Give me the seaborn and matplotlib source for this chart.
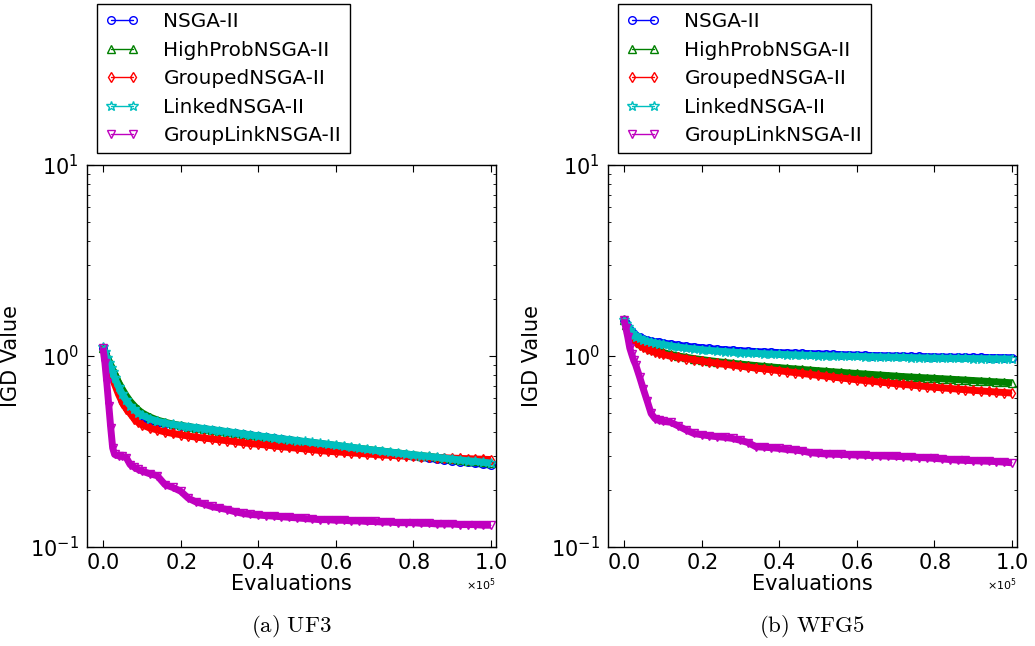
import numpy as np
import pandas as pd
import matplotlib
matplotlib.use("Agg")
import matplotlib.pyplot as plt
import seaborn as sns

# ---------------- data ----------------
evals_k = [0, 0.5, 1, 1.5, 2, 2.5, 3, 4, 5, 6, 7, 8, 9,
           10, 12, 14, 16, 18, 20, 22, 24, 26, 28, 30, 32, 34, 36, 38, 40,
           42, 44, 46, 48, 50, 52, 54, 56, 58, 60, 62, 64, 66, 68, 70, 72,
           74, 76, 78, 80, 82, 84, 86, 88, 90, 92, 94, 96, 98, 100]

algorithms = ["NSGA-II", "HighProbNSGA-II", "GroupedNSGA-II",
              "LinkedNSGA-II", "GroupLinkNSGA-II"]

# UF3
uf3_nsga = [1.10, 1.03, 0.96, 0.89, 0.83, 0.78, 0.73, 0.65, 0.59, 0.55, 0.52, 0.50, 0.485,
            0.472, 0.458, 0.448, 0.441, 0.435, 0.430, 0.425, 0.420, 0.415, 0.410, 0.405, 0.400,
            0.396, 0.391, 0.386, 0.381, 0.377, 0.372, 0.368, 0.364, 0.359, 0.355, 0.351, 0.347,
            0.342, 0.338, 0.334, 0.330, 0.326, 0.322, 0.318, 0.314, 0.310, 0.306, 0.302, 0.298,
            0.295, 0.291, 0.288, 0.285, 0.282, 0.279, 0.277, 0.274, 0.271, 0.268]
uf3_highprob = [1.10, 1.05, 1.00, 0.95, 0.90, 0.85, 0.81, 0.73, 0.67, 0.62, 0.58, 0.55, 0.525,
                0.505, 0.480, 0.462, 0.450, 0.440, 0.433, 0.427, 0.421, 0.416, 0.411, 0.406, 0.401,
                0.396, 0.391, 0.386, 0.381, 0.377, 0.372, 0.368, 0.364, 0.360, 0.356, 0.352, 0.348,
                0.344, 0.340, 0.336, 0.332, 0.328, 0.325, 0.321, 0.318, 0.314, 0.311, 0.307, 0.304,
                0.301, 0.298, 0.295, 0.292, 0.289, 0.286, 0.283, 0.281, 0.278, 0.275]
uf3_grouped = [1.10, 1.02, 0.95, 0.88, 0.82, 0.76, 0.71, 0.63, 0.57, 0.53, 0.50, 0.47, 0.45,
               0.437, 0.420, 0.410, 0.400, 0.393, 0.387, 0.381, 0.376, 0.372, 0.368, 0.364, 0.360,
               0.356, 0.352, 0.348, 0.345, 0.342, 0.338, 0.335, 0.332, 0.329, 0.326, 0.323, 0.320,
               0.317, 0.315, 0.313, 0.311, 0.309, 0.307, 0.305, 0.303, 0.302, 0.300, 0.299, 0.298,
               0.296, 0.295, 0.294, 0.293, 0.292, 0.291, 0.290, 0.289, 0.288, 0.287]
uf3_linked = [1.12, 1.05, 0.98, 0.92, 0.87, 0.82, 0.77, 0.69, 0.63, 0.585, 0.55, 0.525, 0.505,
              0.490, 0.470, 0.456, 0.446, 0.438, 0.432, 0.427, 0.422, 0.417, 0.412, 0.407, 0.402,
              0.397, 0.392, 0.387, 0.382, 0.378, 0.373, 0.369, 0.365, 0.361, 0.357, 0.353, 0.349,
              0.345, 0.341, 0.337, 0.333, 0.329, 0.325, 0.321, 0.318, 0.314, 0.311, 0.307, 0.304,
              0.301, 0.298, 0.295, 0.292, 0.289, 0.286, 0.283, 0.281, 0.278, 0.275]
uf3_grouplink = [1.10, 0.92, 0.72, 0.55, 0.42, 0.33, 0.305, 0.300, 0.298, 0.294, 0.270, 0.262, 0.255,
                 0.250, 0.242, 0.236, 0.212, 0.205, 0.196, 0.180, 0.172, 0.168, 0.163, 0.160, 0.157,
                 0.153, 0.150, 0.148, 0.147, 0.146, 0.145, 0.144, 0.143, 0.142, 0.141, 0.140, 0.139,
                 0.139, 0.138, 0.138, 0.137, 0.137, 0.136, 0.136, 0.135, 0.135, 0.134, 0.134, 0.134,
                 0.133, 0.133, 0.132, 0.132, 0.132, 0.131, 0.131, 0.131, 0.130, 0.130]

# WFG5
wfg5_nsga = [1.55, 1.48, 1.42, 1.37, 1.33, 1.30, 1.28, 1.25, 1.23, 1.21, 1.20, 1.19, 1.18,
             1.17, 1.155, 1.14, 1.125, 1.115, 1.105, 1.095, 1.085, 1.078, 1.072, 1.066, 1.060,
             1.055, 1.050, 1.046, 1.042, 1.038, 1.035, 1.032, 1.029, 1.026, 1.023, 1.020, 1.017,
             1.014, 1.011, 1.008, 1.006, 1.004, 1.002, 1.000, 0.998, 0.996, 0.994, 0.992, 0.990,
             0.988, 0.987, 0.986, 0.985, 0.984, 0.983, 0.982, 0.981, 0.980, 0.979]
wfg5_highprob = [1.55, 1.46, 1.39, 1.33, 1.28, 1.24, 1.21, 1.17, 1.14, 1.11, 1.09, 1.075, 1.06,
                 1.045, 1.02, 1.00, 0.985, 0.970, 0.958, 0.946, 0.935, 0.925, 0.916, 0.907, 0.899,
                 0.891, 0.883, 0.876, 0.869, 0.862, 0.856, 0.850, 0.844, 0.838, 0.832, 0.826, 0.821,
                 0.815, 0.810, 0.805, 0.800, 0.795, 0.790, 0.785, 0.780, 0.776, 0.772, 0.768, 0.764,
                 0.760, 0.756, 0.752, 0.748, 0.744, 0.740, 0.736, 0.732, 0.728, 0.724]
wfg5_grouped = [1.55, 1.45, 1.37, 1.30, 1.25, 1.21, 1.18, 1.14, 1.11, 1.09, 1.07, 1.05, 1.035,
                1.02, 1.00, 0.985, 0.970, 0.955, 0.940, 0.928, 0.916, 0.905, 0.895, 0.885, 0.875,
                0.865, 0.856, 0.847, 0.838, 0.828, 0.819, 0.810, 0.801, 0.792, 0.784, 0.775, 0.767,
                0.759, 0.751, 0.744, 0.737, 0.730, 0.723, 0.716, 0.710, 0.704, 0.698, 0.692, 0.686,
                0.681, 0.676, 0.671, 0.666, 0.661, 0.657, 0.652, 0.648, 0.644, 0.640]
wfg5_linked = [1.55, 1.47, 1.41, 1.36, 1.32, 1.29, 1.265, 1.235, 1.21, 1.195, 1.18, 1.17, 1.16,
               1.15, 1.13, 1.115, 1.10, 1.09, 1.08, 1.07, 1.062, 1.055, 1.048, 1.042, 1.037,
               1.032, 1.028, 1.024, 1.020, 1.017, 1.014, 1.011, 1.008, 1.005, 1.003, 1.001, 0.999,
               0.997, 0.995, 0.993, 0.991, 0.989, 0.987, 0.985, 0.983, 0.981, 0.979, 0.977, 0.975,
               0.974, 0.973, 0.972, 0.971, 0.970, 0.969, 0.968, 0.967, 0.966, 0.965]
wfg5_grouplink = [1.55, 1.40, 1.25, 1.10, 1.02, 0.95, 0.90, 0.78, 0.67, 0.58, 0.50, 0.47, 0.46,
                  0.455, 0.450, 0.430, 0.410, 0.393, 0.387, 0.382, 0.378, 0.375, 0.370, 0.362, 0.352,
                  0.335, 0.333, 0.331, 0.328, 0.324, 0.322, 0.318, 0.312, 0.309, 0.307, 0.306, 0.305,
                  0.304, 0.303, 0.302, 0.301, 0.300, 0.299, 0.298, 0.297, 0.296, 0.294, 0.293, 0.291,
                  0.289, 0.287, 0.285, 0.284, 0.283, 0.282, 0.281, 0.280, 0.278, 0.276]

panels = [
    ("(a)\\ UF3", [uf3_nsga, uf3_highprob, uf3_grouped, uf3_linked, uf3_grouplink]),
    ("(b)\\ WFG5", [wfg5_nsga, wfg5_highprob, wfg5_grouped, wfg5_linked, wfg5_grouplink]),
]
x_ticks = [0, 20000, 40000, 60000, 80000, 100000]

# ---------------- style ----------------
colors = ["#0000ff", "#008000", "#ff0000", "#00bfbf", "#bf00bf"]
markers = ["o", "^", "d", "*", "v"]

sns.set_style("ticks", {"xtick.direction": "in", "ytick.direction": "in",
                        "axes.edgecolor": "black"})
plt.rcParams.update({
    "font.family": ["DejaVu Sans"],
    "text.color": "black", "axes.labelcolor": "black",
    "xtick.color": "black", "ytick.color": "black",
    "xtick.top": True, "ytick.right": True,
    "xtick.major.size": 5, "ytick.major.size": 5,
    "ytick.minor.size": 2.5, "xtick.minor.size": 2.5,
    "axes.linewidth": 1.0,
    "mathtext.fontset": "dejavusans",
})

fig = plt.figure(figsize=(10.35, 6.46), dpi=100)
W, H = 1035, 646
ax_lefts = [87, 608]
legend_lefts = [97, 618]

x_vals = [v * 1000 for v in evals_k]

for i, (caption, series) in enumerate(panels):
    ax = fig.add_axes([ax_lefts[i] / W, (H - 547) / H, 409 / W, 382 / H])
    for name, vals, col, mk in zip(algorithms, series, colors, markers):
        df = pd.DataFrame({"Evaluations": x_vals, "IGD": vals})
        # dense band of the original (thousands of overlapping markers)
        sns.lineplot(data=df, x="Evaluations", y="IGD", ax=ax, sort=False,
                     errorbar=None, color=col, linewidth=5.0,
                     solid_capstyle="butt", legend=False)
        sns.lineplot(data=df, x="Evaluations", y="IGD", ax=ax, sort=False,
                     errorbar=None, color=col, linewidth=1.0, marker=mk,
                     markersize=5.5 if mk != "*" else 7,
                     markerfacecolor="none", markeredgecolor=col,
                     markeredgewidth=1.0, label=name, legend=False)
    ax.set_yscale("log")
    ax.set_ylim(0.1, 10)
    ax.set_xlim(-4120, 101300)
    ax.set_xticks(x_ticks)
    ax.ticklabel_format(style="sci", axis="x", scilimits=(0, 0), useMathText=True)
    ax.xaxis.get_offset_text().set_fontsize(8)
    ax.tick_params(axis="both", which="major", labelsize=15, pad=4)
    ax.tick_params(axis="y", which="major", pad=6)
    ax.set_xlabel("Evaluations", fontsize=15, labelpad=1)
    ax.set_ylabel("IGD Value", fontsize=15, labelpad=6)
    for sp in ax.spines.values():
        sp.set_visible(True)
        sp.set_color("black")
    ax.grid(False)
    ax.legend(loc="upper left",
              bbox_to_anchor=(legend_lefts[i] / W, (H - 4) / H),
              bbox_transform=fig.transFigure, numpoints=2, fancybox=False,
              edgecolor="black", framealpha=1, fontsize=14.4, handlelength=1.7,
              labelspacing=0.47, borderpad=0.42, handletextpad=1.2,
              borderaxespad=0)
    fig.text((ax_lefts[i] + 204) / W, (H - 627) / H, r"$\mathrm{" + caption + "}$",
             ha="center", va="center", fontsize=16.5, math_fontfamily="cm")

fig.savefig("out.png", dpi=100)
